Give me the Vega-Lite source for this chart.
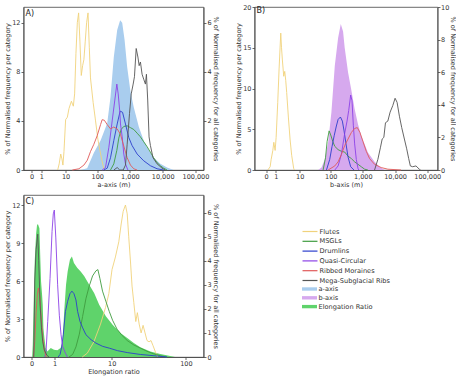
{
  "$schema": "https://vega.github.io/schema/vega-lite/v6.json",
  "padding": {"left": 3.5, "top": 3, "right": 0, "bottom": 0},
  "columns": 2,
  "spacing": {"row": 5, "column": 15},
  "datasets": {
    "curves": [
      {"p":"A","s":"Flutes","x":5.3,"y":0},{"p":"A","s":"Flutes","x":6.0,"y":0.5},{"p":"A","s":"Flutes","x":6.8,"y":1.3},{"p":"A","s":"Flutes","x":7.5,"y":0.9},{"p":"A","s":"Flutes","x":8.1,"y":0.4},{"p":"A","s":"Flutes","x":8.8,"y":1.5},{"p":"A","s":"Flutes","x":10,"y":4.1},{"p":"A","s":"Flutes","x":11.4,"y":4.3},{"p":"A","s":"Flutes","x":12.9,"y":5.0},{"p":"A","s":"Flutes","x":15.5,"y":5.6},{"p":"A","s":"Flutes","x":17.9,"y":5.2},{"p":"A","s":"Flutes","x":19.7,"y":6.2},{"p":"A","s":"Flutes","x":21.7,"y":9.5},{"p":"A","s":"Flutes","x":24,"y":12.0},{"p":"A","s":"Flutes","x":26.4,"y":12.8},{"p":"A","s":"Flutes","x":29,"y":10.5},{"p":"A","s":"Flutes","x":32,"y":7.7},{"p":"A","s":"Flutes","x":35.3,"y":8.5},{"p":"A","s":"Flutes","x":38.7,"y":9.0},{"p":"A","s":"Flutes","x":42.7,"y":10.5},{"p":"A","s":"Flutes","x":47,"y":12.0},{"p":"A","s":"Flutes","x":52,"y":12.8},{"p":"A","s":"Flutes","x":57,"y":10.0},{"p":"A","s":"Flutes","x":62,"y":7.5},{"p":"A","s":"Flutes","x":75,"y":5.5},{"p":"A","s":"Flutes","x":89,"y":4.0},{"p":"A","s":"Flutes","x":105,"y":2.5},{"p":"A","s":"Flutes","x":121,"y":1.6},{"p":"A","s":"Flutes","x":139,"y":0.8},{"p":"A","s":"Flutes","x":160,"y":0.1},{"p":"A","s":"Flutes","x":175,"y":0},
      {"p":"A","s":"MSGLs","x":256,"y":0},{"p":"A","s":"MSGLs","x":323,"y":0.5},{"p":"A","s":"MSGLs","x":400,"y":1.6},{"p":"A","s":"MSGLs","x":459,"y":2.6},{"p":"A","s":"MSGLs","x":540,"y":3.3},{"p":"A","s":"MSGLs","x":652,"y":3.55},{"p":"A","s":"MSGLs","x":827,"y":3.6},{"p":"A","s":"MSGLs","x":1042,"y":3.45},{"p":"A","s":"MSGLs","x":1314,"y":3.3},{"p":"A","s":"MSGLs","x":1667,"y":3.0},{"p":"A","s":"MSGLs","x":2100,"y":2.7},{"p":"A","s":"MSGLs","x":2644,"y":2.3},{"p":"A","s":"MSGLs","x":3357,"y":1.9},{"p":"A","s":"MSGLs","x":4227,"y":1.45},{"p":"A","s":"MSGLs","x":5321,"y":1.0},{"p":"A","s":"MSGLs","x":6761,"y":0.6},{"p":"A","s":"MSGLs","x":8511,"y":0.35},{"p":"A","s":"MSGLs","x":10715,"y":0.15},{"p":"A","s":"MSGLs","x":13600,"y":0},
      {"p":"A","s":"Drumlins","x":160,"y":0},{"p":"A","s":"Drumlins","x":203,"y":0.15},{"p":"A","s":"Drumlins","x":256,"y":1.0},{"p":"A","s":"Drumlins","x":323,"y":2.4},{"p":"A","s":"Drumlins","x":410,"y":3.75},{"p":"A","s":"Drumlins","x":505,"y":4.8},{"p":"A","s":"Drumlins","x":597,"y":4.7},{"p":"A","s":"Drumlins","x":734,"y":3.75},{"p":"A","s":"Drumlins","x":925,"y":2.65},{"p":"A","s":"Drumlins","x":1165,"y":2.0},{"p":"A","s":"Drumlins","x":1667,"y":1.3},{"p":"A","s":"Drumlins","x":2644,"y":0.75},{"p":"A","s":"Drumlins","x":4227,"y":0.35},{"p":"A","s":"Drumlins","x":6761,"y":0.1},{"p":"A","s":"Drumlins","x":10715,"y":0},
      {"p":"A","s":"Quasi-Circular","x":142,"y":0},{"p":"A","s":"Quasi-Circular","x":180,"y":0.2},{"p":"A","s":"Quasi-Circular","x":228,"y":1.85},{"p":"A","s":"Quasi-Circular","x":288,"y":4.0},{"p":"A","s":"Quasi-Circular","x":347,"y":5.7},{"p":"A","s":"Quasi-Circular","x":400,"y":7.0},{"p":"A","s":"Quasi-Circular","x":440,"y":6.2},{"p":"A","s":"Quasi-Circular","x":490,"y":4.8},{"p":"A","s":"Quasi-Circular","x":517,"y":3.75},{"p":"A","s":"Quasi-Circular","x":583,"y":2.7},{"p":"A","s":"Quasi-Circular","x":652,"y":1.3},{"p":"A","s":"Quasi-Circular","x":734,"y":0.5},{"p":"A","s":"Quasi-Circular","x":870,"y":0},
      {"p":"A","s":"Ribbed Moraines","x":16.6,"y":0},{"p":"A","s":"Ribbed Moraines","x":27,"y":0.1},{"p":"A","s":"Ribbed Moraines","x":38.7,"y":0.4},{"p":"A","s":"Ribbed Moraines","x":49.4,"y":0.8},{"p":"A","s":"Ribbed Moraines","x":62,"y":1.5},{"p":"A","s":"Ribbed Moraines","x":79,"y":2.1},{"p":"A","s":"Ribbed Moraines","x":100,"y":2.8},{"p":"A","s":"Ribbed Moraines","x":127,"y":3.7},{"p":"A","s":"Ribbed Moraines","x":142,"y":4.1},{"p":"A","s":"Ribbed Moraines","x":166,"y":4.05},{"p":"A","s":"Ribbed Moraines","x":203,"y":3.7},{"p":"A","s":"Ribbed Moraines","x":256,"y":3.35},{"p":"A","s":"Ribbed Moraines","x":323,"y":3.5},{"p":"A","s":"Ribbed Moraines","x":410,"y":3.35},{"p":"A","s":"Ribbed Moraines","x":517,"y":2.9},{"p":"A","s":"Ribbed Moraines","x":652,"y":1.95},{"p":"A","s":"Ribbed Moraines","x":827,"y":1.0},{"p":"A","s":"Ribbed Moraines","x":1042,"y":0.4},{"p":"A","s":"Ribbed Moraines","x":1314,"y":0.1},{"p":"A","s":"Ribbed Moraines","x":1667,"y":0},
      {"p":"A","s":"Mega-Subglacial Ribs","x":323,"y":0},{"p":"A","s":"Mega-Subglacial Ribs","x":410,"y":0.2},{"p":"A","s":"Mega-Subglacial Ribs","x":490,"y":0},{"p":"A","s":"Mega-Subglacial Ribs","x":625,"y":0},{"p":"A","s":"Mega-Subglacial Ribs","x":734,"y":0.4},{"p":"A","s":"Mega-Subglacial Ribs","x":827,"y":2.1},{"p":"A","s":"Mega-Subglacial Ribs","x":975,"y":4.6},{"p":"A","s":"Mega-Subglacial Ribs","x":1100,"y":6.2},{"p":"A","s":"Mega-Subglacial Ribs","x":1260,"y":7.0},{"p":"A","s":"Mega-Subglacial Ribs","x":1380,"y":7.6},{"p":"A","s":"Mega-Subglacial Ribs","x":1560,"y":9.9},{"p":"A","s":"Mega-Subglacial Ribs","x":1760,"y":9.2},{"p":"A","s":"Mega-Subglacial Ribs","x":1920,"y":8.5},{"p":"A","s":"Mega-Subglacial Ribs","x":2100,"y":8.8},{"p":"A","s":"Mega-Subglacial Ribs","x":2360,"y":7.8},{"p":"A","s":"Mega-Subglacial Ribs","x":2644,"y":7.4},{"p":"A","s":"Mega-Subglacial Ribs","x":2980,"y":7.0},{"p":"A","s":"Mega-Subglacial Ribs","x":3200,"y":7.8},{"p":"A","s":"Mega-Subglacial Ribs","x":3500,"y":5.7},{"p":"A","s":"Mega-Subglacial Ribs","x":3850,"y":2.7},{"p":"A","s":"Mega-Subglacial Ribs","x":4227,"y":2.0},{"p":"A","s":"Mega-Subglacial Ribs","x":5080,"y":1.0},{"p":"A","s":"Mega-Subglacial Ribs","x":6761,"y":0.5},{"p":"A","s":"Mega-Subglacial Ribs","x":9570,"y":0.15},{"p":"A","s":"Mega-Subglacial Ribs","x":12000,"y":0},

      {"p":"B","s":"Flutes","x":0.125,"y":0},{"p":"B","s":"Flutes","x":0.33,"y":0.4},{"p":"B","s":"Flutes","x":0.43,"y":1.3},{"p":"B","s":"Flutes","x":0.61,"y":2.4},{"p":"B","s":"Flutes","x":0.73,"y":3.4},{"p":"B","s":"Flutes","x":0.9,"y":2.4},{"p":"B","s":"Flutes","x":1.04,"y":4.0},{"p":"B","s":"Flutes","x":1.29,"y":8.3},{"p":"B","s":"Flutes","x":1.52,"y":12.4},{"p":"B","s":"Flutes","x":1.84,"y":16.8},{"p":"B","s":"Flutes","x":2.0,"y":15.0},{"p":"B","s":"Flutes","x":2.19,"y":13.5},{"p":"B","s":"Flutes","x":2.51,"y":11.5},{"p":"B","s":"Flutes","x":2.77,"y":12.1},{"p":"B","s":"Flutes","x":3.05,"y":11.0},{"p":"B","s":"Flutes","x":3.34,"y":9.5},{"p":"B","s":"Flutes","x":3.89,"y":6.5},{"p":"B","s":"Flutes","x":4.51,"y":3.8},{"p":"B","s":"Flutes","x":5.2,"y":1.8},{"p":"B","s":"Flutes","x":6.14,"y":0.2},{"p":"B","s":"Flutes","x":6.5,"y":0},
      {"p":"B","s":"MSGLs","x":57.6,"y":0},{"p":"B","s":"MSGLs","x":68.5,"y":1.5},{"p":"B","s":"MSGLs","x":77,"y":3.5},{"p":"B","s":"MSGLs","x":89,"y":4.8},{"p":"B","s":"MSGLs","x":100,"y":4.3},{"p":"B","s":"MSGLs","x":116,"y":3.5},{"p":"B","s":"MSGLs","x":134,"y":2.9},{"p":"B","s":"MSGLs","x":170,"y":2.5},{"p":"B","s":"MSGLs","x":215,"y":2.3},{"p":"B","s":"MSGLs","x":273,"y":2.2},{"p":"B","s":"MSGLs","x":347,"y":1.7},{"p":"B","s":"MSGLs","x":440,"y":1.4},{"p":"B","s":"MSGLs","x":557,"y":1.0},{"p":"B","s":"MSGLs","x":707,"y":0.7},{"p":"B","s":"MSGLs","x":896,"y":0.4},{"p":"B","s":"MSGLs","x":1136,"y":0.1},{"p":"B","s":"MSGLs","x":1439,"y":0},
      {"p":"B","s":"Drumlins","x":73.5,"y":0},{"p":"B","s":"Drumlins","x":93,"y":1.3},{"p":"B","s":"Drumlins","x":110,"y":2.9},{"p":"B","s":"Drumlins","x":128,"y":4.2},{"p":"B","s":"Drumlins","x":150,"y":5.4},{"p":"B","s":"Drumlins","x":170,"y":6.2},{"p":"B","s":"Drumlins","x":201,"y":6.5},{"p":"B","s":"Drumlins","x":231,"y":6.0},{"p":"B","s":"Drumlins","x":261,"y":4.8},{"p":"B","s":"Drumlins","x":300,"y":3.2},{"p":"B","s":"Drumlins","x":347,"y":1.6},{"p":"B","s":"Drumlins","x":419,"y":0.4},{"p":"B","s":"Drumlins","x":531,"y":0},
      {"p":"B","s":"Quasi-Circular","x":134,"y":0},{"p":"B","s":"Quasi-Circular","x":170,"y":0.5},{"p":"B","s":"Quasi-Circular","x":215,"y":1.9},{"p":"B","s":"Quasi-Circular","x":273,"y":4.5},{"p":"B","s":"Quasi-Circular","x":323,"y":6.0},{"p":"B","s":"Quasi-Circular","x":364,"y":7.3},{"p":"B","s":"Quasi-Circular","x":419,"y":9.2},{"p":"B","s":"Quasi-Circular","x":461,"y":8.5},{"p":"B","s":"Quasi-Circular","x":507,"y":5.5},{"p":"B","s":"Quasi-Circular","x":557,"y":3.2},{"p":"B","s":"Quasi-Circular","x":627,"y":1.3},{"p":"B","s":"Quasi-Circular","x":707,"y":0.2},{"p":"B","s":"Quasi-Circular","x":750,"y":0},
      {"p":"B","s":"Ribbed Moraines","x":83,"y":0},{"p":"B","s":"Ribbed Moraines","x":134,"y":0.5},{"p":"B","s":"Ribbed Moraines","x":170,"y":1.0},{"p":"B","s":"Ribbed Moraines","x":215,"y":1.9},{"p":"B","s":"Ribbed Moraines","x":273,"y":3.0},{"p":"B","s":"Ribbed Moraines","x":347,"y":3.8},{"p":"B","s":"Ribbed Moraines","x":440,"y":4.6},{"p":"B","s":"Ribbed Moraines","x":557,"y":5.1},{"p":"B","s":"Ribbed Moraines","x":674,"y":5.2},{"p":"B","s":"Ribbed Moraines","x":814,"y":4.6},{"p":"B","s":"Ribbed Moraines","x":1008,"y":3.5},{"p":"B","s":"Ribbed Moraines","x":1278,"y":2.3},{"p":"B","s":"Ribbed Moraines","x":1621,"y":1.4},{"p":"B","s":"Ribbed Moraines","x":2312,"y":0.7},{"p":"B","s":"Ribbed Moraines","x":3716,"y":0.3},{"p":"B","s":"Ribbed Moraines","x":5970,"y":0.1},{"p":"B","s":"Ribbed Moraines","x":15380,"y":0},
      {"p":"B","s":"Mega-Subglacial Ribs","x":2312,"y":0},{"p":"B","s":"Mega-Subglacial Ribs","x":2930,"y":1.3},{"p":"B","s":"Mega-Subglacial Ribs","x":3540,"y":2.8},{"p":"B","s":"Mega-Subglacial Ribs","x":3990,"y":3.8},{"p":"B","s":"Mega-Subglacial Ribs","x":4490,"y":4.0},{"p":"B","s":"Mega-Subglacial Ribs","x":5050,"y":5.8},{"p":"B","s":"Mega-Subglacial Ribs","x":5970,"y":6.0},{"p":"B","s":"Mega-Subglacial Ribs","x":7040,"y":7.1},{"p":"B","s":"Mega-Subglacial Ribs","x":8510,"y":7.9},{"p":"B","s":"Mega-Subglacial Ribs","x":10040,"y":8.8},{"p":"B","s":"Mega-Subglacial Ribs","x":11580,"y":8.3},{"p":"B","s":"Mega-Subglacial Ribs","x":13670,"y":6.6},{"p":"B","s":"Mega-Subglacial Ribs","x":16140,"y":5.2},{"p":"B","s":"Mega-Subglacial Ribs","x":19500,"y":3.8},{"p":"B","s":"Mega-Subglacial Ribs","x":23000,"y":2.6},{"p":"B","s":"Mega-Subglacial Ribs","x":26550,"y":1.4},{"p":"B","s":"Mega-Subglacial Ribs","x":29870,"y":0.5},{"p":"B","s":"Mega-Subglacial Ribs","x":35240,"y":0.4},{"p":"B","s":"Mega-Subglacial Ribs","x":44670,"y":0.5},{"p":"B","s":"Mega-Subglacial Ribs","x":56620,"y":0.1},{"p":"B","s":"Mega-Subglacial Ribs","x":62000,"y":0},

      {"p":"C","s":"Flutes","x":3.56,"y":0},{"p":"C","s":"Flutes","x":4.3,"y":0.3},{"p":"C","s":"Flutes","x":5.46,"y":1.2},{"p":"C","s":"Flutes","x":6.88,"y":2.6},{"p":"C","s":"Flutes","x":8.14,"y":3.9},{"p":"C","s":"Flutes","x":9.1,"y":5.0},{"p":"C","s":"Flutes","x":10.1,"y":6.9},{"p":"C","s":"Flutes","x":11.3,"y":7.9},{"p":"C","s":"Flutes","x":12.6,"y":9.1},{"p":"C","s":"Flutes","x":13.6,"y":10.5},{"p":"C","s":"Flutes","x":14.5,"y":11.5},{"p":"C","s":"Flutes","x":15.6,"y":12.0},{"p":"C","s":"Flutes","x":16.5,"y":11.3},{"p":"C","s":"Flutes","x":17.3,"y":9.5},{"p":"C","s":"Flutes","x":18.3,"y":7.5},{"p":"C","s":"Flutes","x":19.2,"y":5.6},{"p":"C","s":"Flutes","x":20.3,"y":4.3},{"p":"C","s":"Flutes","x":21.6,"y":2.8},{"p":"C","s":"Flutes","x":22.7,"y":3.5},{"p":"C","s":"Flutes","x":24.0,"y":2.6},{"p":"C","s":"Flutes","x":25.5,"y":1.9},{"p":"C","s":"Flutes","x":27.1,"y":2.5},{"p":"C","s":"Flutes","x":28.8,"y":1.9},{"p":"C","s":"Flutes","x":30.6,"y":1.3},{"p":"C","s":"Flutes","x":32.6,"y":1.2},{"p":"C","s":"Flutes","x":34.6,"y":1.3},{"p":"C","s":"Flutes","x":36.8,"y":0.9},{"p":"C","s":"Flutes","x":39.6,"y":0.4},{"p":"C","s":"Flutes","x":42.5,"y":0},
      {"p":"C","s":"MSGLs","x":2.07,"y":0},{"p":"C","s":"MSGLs","x":2.42,"y":0.2},{"p":"C","s":"MSGLs","x":2.78,"y":0.8},{"p":"C","s":"MSGLs","x":3.18,"y":1.8},{"p":"C","s":"MSGLs","x":3.61,"y":3.2},{"p":"C","s":"MSGLs","x":4.09,"y":4.6},{"p":"C","s":"MSGLs","x":4.62,"y":5.6},{"p":"C","s":"MSGLs","x":5.21,"y":6.4},{"p":"C","s":"MSGLs","x":5.86,"y":6.8},{"p":"C","s":"MSGLs","x":6.28,"y":6.9},{"p":"C","s":"MSGLs","x":6.73,"y":6.2},{"p":"C","s":"MSGLs","x":7.36,"y":5.2},{"p":"C","s":"MSGLs","x":8.24,"y":4.4},{"p":"C","s":"MSGLs","x":9.22,"y":3.6},{"p":"C","s":"MSGLs","x":10.3,"y":2.9},{"p":"C","s":"MSGLs","x":11.9,"y":2.2},{"p":"C","s":"MSGLs","x":14.0,"y":1.7},{"p":"C","s":"MSGLs","x":16.5,"y":1.3},{"p":"C","s":"MSGLs","x":20.3,"y":0.95},{"p":"C","s":"MSGLs","x":24.9,"y":0.7},{"p":"C","s":"MSGLs","x":30.6,"y":0.45},{"p":"C","s":"MSGLs","x":37.6,"y":0.25},{"p":"C","s":"MSGLs","x":46,"y":0.1},{"p":"C","s":"MSGLs","x":56.5,"y":0},
      {"p":"C","s":"Drumlins","x":1.22,"y":0},{"p":"C","s":"Drumlins","x":1.35,"y":0.2},{"p":"C","s":"Drumlins","x":1.47,"y":0.8},{"p":"C","s":"Drumlins","x":1.59,"y":1.8},{"p":"C","s":"Drumlins","x":1.76,"y":3.6},{"p":"C","s":"Drumlins","x":1.95,"y":4.4},{"p":"C","s":"Drumlins","x":2.16,"y":5.0},{"p":"C","s":"Drumlins","x":2.35,"y":5.2},{"p":"C","s":"Drumlins","x":2.56,"y":5.0},{"p":"C","s":"Drumlins","x":2.78,"y":4.5},{"p":"C","s":"Drumlins","x":2.97,"y":3.6},{"p":"C","s":"Drumlins","x":3.27,"y":2.8},{"p":"C","s":"Drumlins","x":3.62,"y":2.3},{"p":"C","s":"Drumlins","x":4.09,"y":1.76},{"p":"C","s":"Drumlins","x":4.93,"y":1.37},{"p":"C","s":"Drumlins","x":5.86,"y":1.1},{"p":"C","s":"Drumlins","x":7.4,"y":0.84},{"p":"C","s":"Drumlins","x":9.22,"y":0.7},{"p":"C","s":"Drumlins","x":12.1,"y":0.5},{"p":"C","s":"Drumlins","x":16.5,"y":0.35},{"p":"C","s":"Drumlins","x":24.9,"y":0.2},{"p":"C","s":"Drumlins","x":37.9,"y":0.1},{"p":"C","s":"Drumlins","x":56.5,"y":0},
      {"p":"C","s":"Quasi-Circular","x":0.486,"y":0},{"p":"C","s":"Quasi-Circular","x":0.546,"y":0.45},{"p":"C","s":"Quasi-Circular","x":0.625,"y":2.8},{"p":"C","s":"Quasi-Circular","x":0.742,"y":6.2},{"p":"C","s":"Quasi-Circular","x":0.849,"y":9.9},{"p":"C","s":"Quasi-Circular","x":0.92,"y":11.3},{"p":"C","s":"Quasi-Circular","x":0.98,"y":11.6},{"p":"C","s":"Quasi-Circular","x":1.07,"y":9.4},{"p":"C","s":"Quasi-Circular","x":1.186,"y":5.7},{"p":"C","s":"Quasi-Circular","x":1.3,"y":3.3},{"p":"C","s":"Quasi-Circular","x":1.42,"y":1.76},{"p":"C","s":"Quasi-Circular","x":1.54,"y":0.84},{"p":"C","s":"Quasi-Circular","x":1.76,"y":0.3},{"p":"C","s":"Quasi-Circular","x":1.93,"y":0},
      {"p":"C","s":"Ribbed Moraines","x":0.06,"y":0},{"p":"C","s":"Ribbed Moraines","x":0.103,"y":1.2},{"p":"C","s":"Ribbed Moraines","x":0.148,"y":3.5},{"p":"C","s":"Ribbed Moraines","x":0.195,"y":5.0},{"p":"C","s":"Ribbed Moraines","x":0.23,"y":5.45},{"p":"C","s":"Ribbed Moraines","x":0.28,"y":4.8},{"p":"C","s":"Ribbed Moraines","x":0.33,"y":3.3},{"p":"C","s":"Ribbed Moraines","x":0.4,"y":1.6},{"p":"C","s":"Ribbed Moraines","x":0.47,"y":0.5},{"p":"C","s":"Ribbed Moraines","x":0.56,"y":0},
      {"p":"C","s":"Mega-Subglacial Ribs","x":0.071,"y":0},{"p":"C","s":"Mega-Subglacial Ribs","x":0.103,"y":6.0},{"p":"C","s":"Mega-Subglacial Ribs","x":0.148,"y":8.5},{"p":"C","s":"Mega-Subglacial Ribs","x":0.207,"y":9.7},{"p":"C","s":"Mega-Subglacial Ribs","x":0.243,"y":7.6},{"p":"C","s":"Mega-Subglacial Ribs","x":0.295,"y":4.1},{"p":"C","s":"Mega-Subglacial Ribs","x":0.348,"y":2.3},{"p":"C","s":"Mega-Subglacial Ribs","x":0.4,"y":1.2},{"p":"C","s":"Mega-Subglacial Ribs","x":0.47,"y":0.55},{"p":"C","s":"Mega-Subglacial Ribs","x":0.58,"y":0.15},{"p":"C","s":"Mega-Subglacial Ribs","x":0.69,"y":0}
    ],
    "hist": [
      {"p":"A","h":"a-axis","x":30.5,"y":0},{"p":"A","h":"a-axis","x":49,"y":0.07},{"p":"A","h":"a-axis","x":79,"y":0.7},{"p":"A","h":"a-axis","x":127,"y":1.2},{"p":"A","h":"a-axis","x":203,"y":1.9},{"p":"A","h":"a-axis","x":256,"y":2.97},{"p":"A","h":"a-axis","x":323,"y":4.6},{"p":"A","h":"a-axis","x":410,"y":5.7},{"p":"A","h":"a-axis","x":505,"y":6.1},{"p":"A","h":"a-axis","x":583,"y":6.0},{"p":"A","h":"a-axis","x":690,"y":5.3},{"p":"A","h":"a-axis","x":827,"y":4.2},{"p":"A","h":"a-axis","x":1042,"y":3.2},{"p":"A","h":"a-axis","x":1314,"y":2.56},{"p":"A","h":"a-axis","x":1880,"y":1.75},{"p":"A","h":"a-axis","x":2644,"y":1.2},{"p":"A","h":"a-axis","x":3800,"y":0.8},{"p":"A","h":"a-axis","x":5321,"y":0.5},{"p":"A","h":"a-axis","x":8511,"y":0.25},{"p":"A","h":"a-axis","x":13600,"y":0.1},{"p":"A","h":"a-axis","x":21600,"y":0},
      {"p":"B","h":"b-axis","x":40.2,"y":0},{"p":"B","h":"b-axis","x":51.3,"y":0.15},{"p":"B","h":"b-axis","x":65.2,"y":0.66},{"p":"B","h":"b-axis","x":83,"y":1.7},{"p":"B","h":"b-axis","x":105,"y":3.55},{"p":"B","h":"b-axis","x":134,"y":6.4},{"p":"B","h":"b-axis","x":170,"y":8.1},{"p":"B","h":"b-axis","x":206,"y":8.95},{"p":"B","h":"b-axis","x":243,"y":8.5},{"p":"B","h":"b-axis","x":273,"y":7.5},{"p":"B","h":"b-axis","x":347,"y":6.0},{"p":"B","h":"b-axis","x":440,"y":4.9},{"p":"B","h":"b-axis","x":557,"y":3.75},{"p":"B","h":"b-axis","x":707,"y":2.8},{"p":"B","h":"b-axis","x":896,"y":2.1},{"p":"B","h":"b-axis","x":1439,"y":1.07},{"p":"B","h":"b-axis","x":2312,"y":0.5},{"p":"B","h":"b-axis","x":3302,"y":0.2},{"p":"B","h":"b-axis","x":4710,"y":0},
      {"p":"C","h":"Elongation Ratio","x":0.02,"y":0},{"p":"C","h":"Elongation Ratio","x":0.039,"y":0.5},{"p":"C","h":"Elongation Ratio","x":0.071,"y":2.4},{"p":"C","h":"Elongation Ratio","x":0.103,"y":4.0},{"p":"C","h":"Elongation Ratio","x":0.148,"y":5.1},{"p":"C","h":"Elongation Ratio","x":0.183,"y":5.5},{"p":"C","h":"Elongation Ratio","x":0.218,"y":5.5},{"p":"C","h":"Elongation Ratio","x":0.268,"y":5.35},{"p":"C","h":"Elongation Ratio","x":0.306,"y":3.97},{"p":"C","h":"Elongation Ratio","x":0.332,"y":3.14},{"p":"C","h":"Elongation Ratio","x":0.373,"y":2.59},{"p":"C","h":"Elongation Ratio","x":0.4,"y":2.17},{"p":"C","h":"Elongation Ratio","x":0.428,"y":1.2},{"p":"C","h":"Elongation Ratio","x":0.47,"y":0.8},{"p":"C","h":"Elongation Ratio","x":0.53,"y":0.37},{"p":"C","h":"Elongation Ratio","x":0.61,"y":0.23},{"p":"C","h":"Elongation Ratio","x":0.78,"y":0.37},{"p":"C","h":"Elongation Ratio","x":0.96,"y":0.3},{"p":"C","h":"Elongation Ratio","x":1.17,"y":0.28},{"p":"C","h":"Elongation Ratio","x":1.39,"y":0.37},{"p":"C","h":"Elongation Ratio","x":1.54,"y":0.65},{"p":"C","h":"Elongation Ratio","x":1.66,"y":1.9},{"p":"C","h":"Elongation Ratio","x":1.81,"y":3.0},{"p":"C","h":"Elongation Ratio","x":1.95,"y":3.55},{"p":"C","h":"Elongation Ratio","x":2.16,"y":4.05},{"p":"C","h":"Elongation Ratio","x":2.35,"y":4.18},{"p":"C","h":"Elongation Ratio","x":2.56,"y":3.9},{"p":"C","h":"Elongation Ratio","x":2.94,"y":3.7},{"p":"C","h":"Elongation Ratio","x":3.35,"y":3.55},{"p":"C","h":"Elongation Ratio","x":3.85,"y":3.35},{"p":"C","h":"Elongation Ratio","x":4.62,"y":3.0},{"p":"C","h":"Elongation Ratio","x":5.53,"y":2.65},{"p":"C","h":"Elongation Ratio","x":6.57,"y":2.17},{"p":"C","h":"Elongation Ratio","x":8.24,"y":1.69},{"p":"C","h":"Elongation Ratio","x":10.3,"y":1.34},{"p":"C","h":"Elongation Ratio","x":13.3,"y":1.0},{"p":"C","h":"Elongation Ratio","x":16.5,"y":0.79},{"p":"C","h":"Elongation Ratio","x":20.3,"y":0.58},{"p":"C","h":"Elongation Ratio","x":24.9,"y":0.4},{"p":"C","h":"Elongation Ratio","x":33.9,"y":0.23},{"p":"C","h":"Elongation Ratio","x":46,"y":0.12},{"p":"C","h":"Elongation Ratio","x":62.3,"y":0.04},{"p":"C","h":"Elongation Ratio","x":72,"y":0}
    ]
  },
  "concat": [
    {
      "width": 180, "height": 163,
      "title": {"text": "A)", "frame": "group", "anchor": "start", "offset": -11, "dx": 2, "fontSize": 8, "fontWeight": "normal", "color": "#222"},
      "layer": [
        {
          "data": {"name": "hist"},
          "transform": [{"filter": "datum.p === 'A'"}],
          "mark": {"type": "area"},
          "encoding": {
            "x": {"field": "x", "type": "quantitative", "scale": {"type": "symlog", "domain": [-0.75, 176000], "nice": false, "zero": false}, "axis": {"values": [0, 1, 10, 100, 1000, 10000, 100000], "labelExpr": "format(datum.value, ',')", "title": "a-axis (m)", "labelFlush": false}},
            "y": {"field": "y", "type": "quantitative", "scale": {"domain": [0, 6.64], "nice": false}, "axis": {"orient": "right", "values": [2, 4, 6], "title": "% of Normalised frequency for all categories"}},
            "fill": {"field": "h", "type": "nominal", "scale": {"domain": ["a-axis", "b-axis", "Elongation Ratio"], "range": ["#a9cdee", "#d6a9ee", "#5fd36b"]}, "legend": {"orient": "none", "legendX": 282, "legendY": 278, "title": null, "symbolType": "M-2,-0.45H2V0.45H-2Z", "symbolSize": 56, "symbolStrokeWidth": 0, "rowPadding": 0.8, "labelOffset": 5, "labelFontSize": 6.6, "labelColor": "#333"}}
          }
        },
        {
          "data": {"name": "curves"},
          "transform": [{"filter": "datum.p === 'A'"}],
          "mark": {"type": "line", "strokeWidth": 0.9},
          "encoding": {
            "x": {"field": "x", "type": "quantitative", "scale": {"type": "symlog", "domain": [-0.75, 176000], "nice": false, "zero": false}, "axis": {"values": [0, 1, 10, 100, 1000, 10000, 100000], "labelExpr": "format(datum.value, ',')", "title": "a-axis (m)", "labelFlush": false}},
            "y": {"field": "y", "type": "quantitative", "scale": {"domain": [0, 13.28], "nice": false}, "axis": {"orient": "left", "values": [0, 4, 8, 12], "title": "% of Normalised frequency per category"}},
            "color": {"field": "s", "type": "nominal", "scale": {"domain": ["Flutes", "MSGLs", "Drumlins", "Quasi-Circular", "Ribbed Moraines", "Mega-Subglacial Ribs"], "range": ["#f0d27c", "#409c40", "#2c3ecc", "#8c42e6", "#e05a5a", "#555555"]}, "legend": {"orient": "none", "legendX": 282, "legendY": 220, "title": null, "symbolType": "M-2,0H2", "symbolSize": 56, "symbolStrokeWidth": 1.2, "rowPadding": 0.8, "labelOffset": 5, "labelFontSize": 6.6, "labelColor": "#333"}}
          }
        }
      ],
      "resolve": {"scale": {"y": "independent"}}
    },
    {
      "width": 183, "height": 163,
      "title": {"text": "B)", "frame": "group", "anchor": "start", "offset": -11, "dx": 2, "fontSize": 8, "fontWeight": "normal", "color": "#222"},
      "layer": [
        {
          "data": {"name": "hist"},
          "transform": [{"filter": "datum.p === 'B'"}],
          "mark": {"type": "area"},
          "encoding": {
            "x": {"field": "x", "type": "quantitative", "scale": {"type": "symlog", "domain": [-1.3, 208000], "nice": false, "zero": false}, "axis": {"values": [0, 1, 10, 100, 1000, 10000, 100000], "labelExpr": "format(datum.value, ',')", "title": "b-axis (m)", "labelFlush": false}},
            "y": {"field": "y", "type": "quantitative", "scale": {"domain": [0, 10], "nice": false}, "axis": {"orient": "right", "values": [0, 2, 4, 6, 8, 10], "title": "% of Normalised frequency for all categories", "labelPadding": 0.5, "titlePadding": 0.5}},
            "fill": {"field": "h", "type": "nominal"}
          }
        },
        {
          "data": {"name": "curves"},
          "transform": [{"filter": "datum.p === 'B'"}],
          "mark": {"type": "line", "strokeWidth": 0.9},
          "encoding": {
            "x": {"field": "x", "type": "quantitative", "scale": {"type": "symlog", "domain": [-1.3, 208000], "nice": false, "zero": false}, "axis": {"values": [0, 1, 10, 100, 1000, 10000, 100000], "labelExpr": "format(datum.value, ',')", "title": "b-axis (m)", "labelFlush": false}},
            "y": {"field": "y", "type": "quantitative", "scale": {"domain": [0, 20], "nice": false}, "axis": {"orient": "left", "values": [0, 5, 10, 15, 20], "title": "% of Normalised frequency per category"}},
            "color": {"field": "s", "type": "nominal"}
          }
        }
      ],
      "resolve": {"scale": {"y": "independent"}}
    },
    {
      "width": 180, "height": 162,
      "title": {"text": "C)", "frame": "group", "anchor": "start", "offset": -11, "dx": 2, "fontSize": 8, "fontWeight": "normal", "color": "#222"},
      "layer": [
        {
          "data": {"name": "hist"},
          "transform": [{"filter": "datum.p === 'C'"}],
          "mark": {"type": "area"},
          "encoding": {
            "x": {"field": "x", "type": "quantitative", "scale": {"type": "symlog", "domain": [-0.269, 170], "nice": false, "zero": false}, "axis": {"values": [0, 1, 10, 100], "labelExpr": "format(datum.value, ',')", "title": "Elongation ratio", "labelFlush": false}},
            "y": {"field": "y", "type": "quantitative", "scale": {"domain": [0, 6.73], "nice": false}, "axis": {"orient": "right", "values": [0, 1, 2, 3, 4, 5, 6], "title": "% of Normalised frequency for all categories"}},
            "fill": {"field": "h", "type": "nominal"}
          }
        },
        {
          "data": {"name": "curves"},
          "transform": [{"filter": "datum.p === 'C'"}],
          "mark": {"type": "line", "strokeWidth": 0.9},
          "encoding": {
            "x": {"field": "x", "type": "quantitative", "scale": {"type": "symlog", "domain": [-0.269, 170], "nice": false, "zero": false}, "axis": {"values": [0, 1, 10, 100], "labelExpr": "format(datum.value, ',')", "title": "Elongation ratio", "labelFlush": false}},
            "y": {"field": "y", "type": "quantitative", "scale": {"domain": [0, 12.79], "nice": false}, "axis": {"orient": "left", "values": [0, 3, 6, 9, 12], "title": "% of Normalised frequency per category"}},
            "color": {"field": "s", "type": "nominal"}
          }
        }
      ],
      "resolve": {"scale": {"y": "independent"}}
    }
  ],
  "config": {
    "font": "DejaVu Sans",
    "background": "white",
    "view": {"stroke": "#444", "strokeWidth": 0.8},
    "axis": {"grid": false, "domainColor": "#444", "domainWidth": 0.8, "tickColor": "#444", "tickWidth": 0.8, "labelColor": "#333", "titleColor": "#333", "labelFontSize": 6.5, "titleFontSize": 6.5, "titleFontWeight": "normal", "tickSize": 2.5, "labelPadding": 1, "titlePadding": 1.5},
    "legend": {"labelFont": "DejaVu Sans"}
  }
}
